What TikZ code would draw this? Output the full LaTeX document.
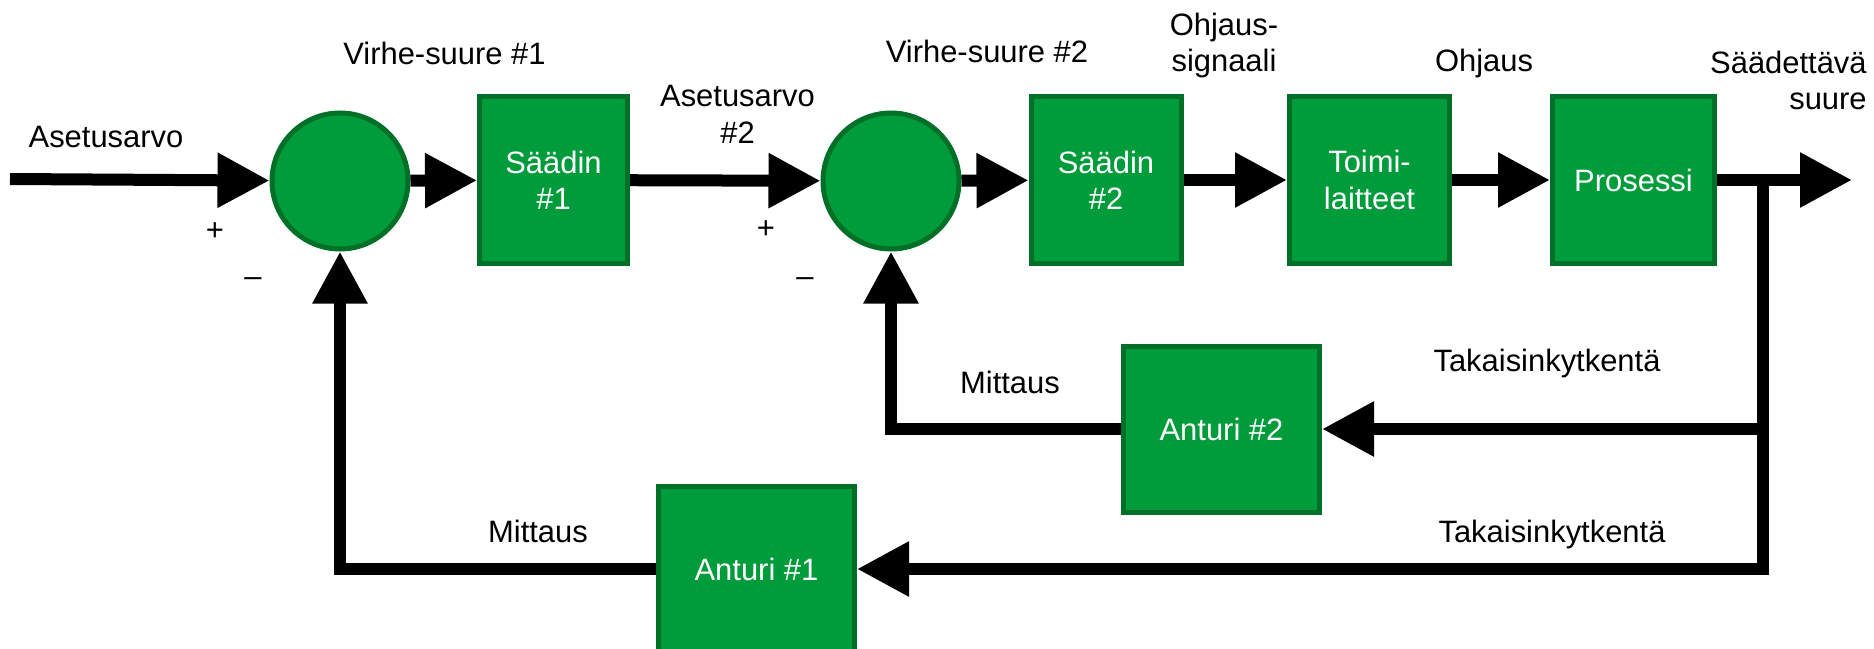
\documentclass[tikz,border=0pt]{standalone}
\usepackage{fontspec}
\setmainfont{Liberation Sans}
\usetikzlibrary{arrows.meta}
\definecolor{blockfill}{RGB}{0,155,58}
\definecolor{blockedge}{RGB}{0,112,40}
\newcommand{\txtsize}{\fontsize{17.6pt}{20.7pt}\selectfont}

\begin{document}
\begin{tikzpicture}[x=0.2mm,y=-0.2mm,
  every node/.style={font=\txtsize,inner sep=0pt},
  block/.style={draw=blockedge,fill=blockfill,line width=1mm,text=white,align=center,minimum height=33.2mm},
  summer/.style={circle,draw=blockedge,fill=blockfill,line width=1mm,minimum size=27.2mm},
  flow/.style={line width=2.4mm,-{Triangle[length=10.4mm,width=10.4mm]}}]

\useasboundingbox (0,0) rectangle (1874,649);

 \node[summer] (c1) at (340,181) {};
 \node[summer] (c2) at (891,181) {};
 \node[block,minimum width=29.6mm] (s1) at (553.5,180) {Säädin\\\#1};
 \node[block,minimum width=30mm] (s2) at (1106,180) {Säädin\\\#2};
 \node[block,minimum width=32mm] (tl) at (1369.5,180) {Toimi-\\laitteet};
 \node[block,minimum width=32.4mm] (pr) at (1633.5,180) {Prosessi};
 \node[block,minimum width=39.2mm] (a2) at (1221.5,429) {Anturi \#2};
 \node[block,minimum width=39.2mm] (a1) at (756.5,569) {Anturi \#1};

 \coordinate (in) at (10,179);
 \coordinate (out) at (1852,180);
 \coordinate (br) at (1763,180);
 \coordinate (br2) at (1763,429);

   \draw[flow] (in) -- (c1);
   \draw[flow] (c1) -- (s1);
   \draw[flow] (s1) -- (c2);
   \draw[flow] (c2) -- (s2);
   \draw[flow] (s2) -- (tl);
   \draw[flow] (tl) -- (pr);
   \draw[flow] (pr) -- (out);
   \draw[flow] (br) |- (a1);
   \draw[flow] (br2) -- (a2);
   \draw[flow] (a2) -| (c2);
   \draw[flow] (a1) -| (c1);

   \node[anchor=base] (lin) at (106,148) {Asetusarvo};
   \node (p1) at (215,232) {+};
   \node (m1) at (253,282) {\textendash};
   \node[anchor=base] (e1) at (444.5,65) {Virhe-suure \#1};
   \node[anchor=base,align=center] (r2) at (737.5,143) {Asetusarvo\\\#2};
   \node (p2) at (766,230) {+};
   \node (m2) at (805,282) {\textendash};
   \node[anchor=base] (e2) at (987,63) {Virhe-suure \#2};
   \node[anchor=base,align=center] (os) at (1224,72) {Ohjaus-\\signaali};
   \node[anchor=base] (oh) at (1484,72) {Ohjaus};
   \node[anchor=base east,align=right] (sv) at (1867,110) {Säädettävä\\suure};
   \node[anchor=base] (mt2) at (1010,393) {Mittaus};
   \node[anchor=base] (tk2) at (1547,371) {Takaisinkytkentä};
   \node[anchor=base] (mt1) at (538,542) {Mittaus};
   \node[anchor=base] (tk1) at (1552,542) {Takaisinkytkentä};

\end{tikzpicture}
\end{document}
